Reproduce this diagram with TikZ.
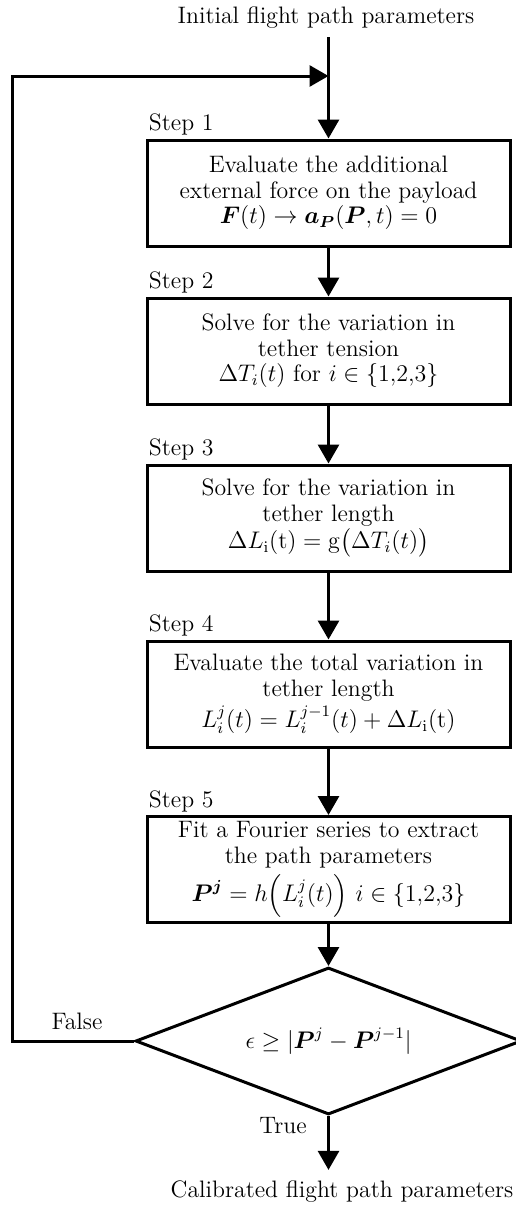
\documentclass[tikz,border=0pt]{standalone}
\usepackage{amsmath,amssymb}
\usepackage{tikz}
\usetikzlibrary{positioning,arrows.meta,shapes.geometric}
\tikzset{
  flow/.style={-{Triangle[length=9.5pt,width=10.5pt]},line width=1.5pt},
  stepbox/.style={draw,line width=1.5pt,minimum width=181.5pt,minimum height=53pt,
    align=center,inner sep=2pt},
  decide/.style={draw,diamond,line width=1.5pt,minimum width=193pt,minimum height=73.5pt,
    inner sep=0pt,aspect=2.6},
  steplbl/.style={anchor=base west,inner sep=1.5pt},
  plain/.style={inner sep=1pt,anchor=base},
}

\begin{document}
\begin{tikzpicture}[x=0.5pt,y=-0.5pt,font=\fontsize{11.9}{12.8}\selectfont]
  \useasboundingbox (0,0) rectangle (515,1205);
  % input / output
  \node[plain] (init) at (326,23) {Initial flight path parameters};
  \node[plain] (out) at (342,1197) {Calibrated flight path parameters};
  % the five steps
  \node[stepbox] (s1) at (328.5,193) {Evaluate the additional\\ external force on the payload\\
    $\boldsymbol{F}(t)\to\boldsymbol{a}_{\boldsymbol{P}}(\boldsymbol{P},t)=0$};
  \node[stepbox] (s2) at (328.5,351) {Solve for the variation in\\ tether tension\\
    $\Delta T_i(t)$ for $i\in\{1{,}2{,}3\}$};
  \node[stepbox] (s3) at (328.5,518) {Solve for the variation in\\ tether length\\[1pt]
    $\Delta L_{\mathrm{i}}(\mathrm{t})=\mathrm{g}\big(\Delta T_i(t)\big)$};
  \node[stepbox] (s4) at (328.5,694) {Evaluate the total variation in\\ tether length\\[1pt]
    $L_i^j(t)=L_i^{j-1}(t)+\Delta L_{\mathrm{i}}(\mathrm{t})$};
  \node[stepbox] (s5) at (328.5,869.5) {Fit a Fourier series to extract\\ the path parameters\\[2pt]
    $\boldsymbol{P}^{\boldsymbol{j}}=h\Big(L_i^j(t)\Big)\ i\in\{1{,}2{,}3\}$};
  \foreach \k in {1,...,5}
    \node[steplbl] (l\k) at ([yshift=4pt]s\k.north west) {Step \k};
  % convergence check
  \node[decide] (chk) at (328.5,1041) {$\epsilon\geq\lvert\boldsymbol{P}^{j}-\boldsymbol{P}^{j-1}\rvert$};
  \node[plain] (fl) at (77,1029) {False};
  \node[plain] (tr) at (283,1133) {True};
  % connectors
  \coordinate (join) at (328.5,76);
  \coordinate (loop) at (12,76);
  \draw[line width=1.5pt,shorten <=3.5pt] (init.south -| s1.north) -- (join);
  \draw[flow] (join) -- (s1.north);
  \draw[flow] (s1) -- (s2);
  \draw[flow] (s2) -- (s3);
  \draw[flow] (s3) -- (s4);
  \draw[flow] (s4) -- (s5);
  \draw[flow] (s5) -- (chk.north);
  \draw[flow] (chk.west) -| (loop) -- (join);
  \draw[flow,shorten >=4pt] (chk.south) -- (chk.south |- out.north);
\end{tikzpicture}
\end{document}
